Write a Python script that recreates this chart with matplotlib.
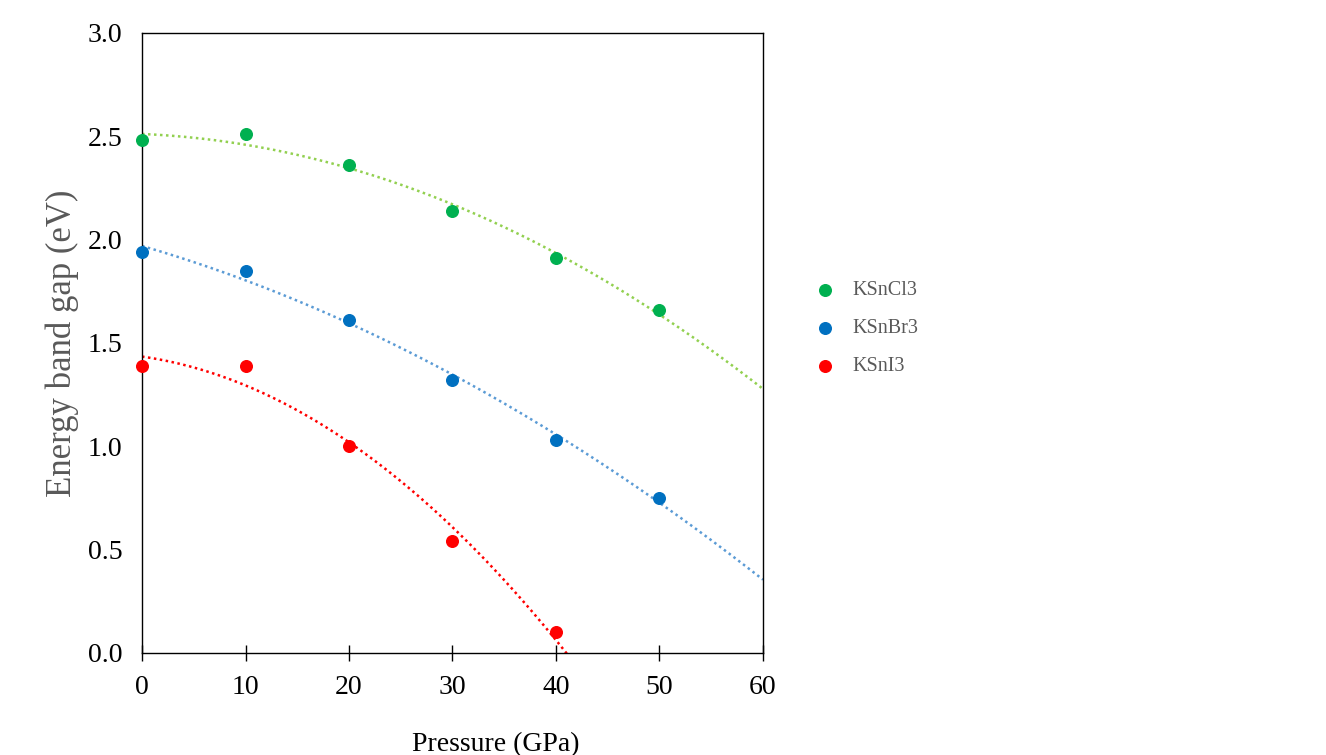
import numpy as np
import matplotlib
matplotlib.use("Agg")
import matplotlib.pyplot as plt

plt.rcParams['font.family'] = ['Liberation Serif', 'DejaVu Serif']

pressure = [0, 10, 20, 30, 40, 50]
ksncl3 = [2.48, 2.51, 2.36, 2.14, 1.91, 1.66]
ksnbr3 = [1.94, 1.85, 1.61, 1.32, 1.03, 0.75]
pressure_i = [0, 10, 20, 30, 40]
ksni3 = [1.39, 1.39, 1.00, 0.54, 0.10]

series = [
    ("KSnCl3", pressure, ksncl3, "#00B050", "#92D050"),
    ("KSnBr3", pressure, ksnbr3, "#0070C0", "#5B9BD5"),
    ("KSnI3", pressure_i, ksni3, "#FF0000", "#FF0000"),
]

fig = plt.figure(figsize=(13.26, 7.55), dpi=100)
ax = fig.add_axes([0.1071, 0.1351, 0.4683, 0.8212])

xs = np.linspace(0, 60, 300)
handles = []
for name, x, y, mc, lc in series:
    coef = np.polyfit(x, y, 2)
    ax.plot(xs, np.polyval(coef, xs), linestyle=(0, (1, 1.4)), color=lc, lw=1.8, zorder=2)
    h = ax.scatter(x, y, s=70, color=mc, zorder=3, clip_on=False, label=name)
    handles.append(h)

ax.set_xlim(0, 60)
ax.set_ylim(0, 3.0)
ax.set_xticks(range(0, 61, 10))
ax.set_yticks(np.arange(0, 3.01, 0.5))
ax.set_yticklabels([f"{v:.1f}" for v in np.arange(0, 3.01, 0.5)])
ax.tick_params(axis='x', direction='inout', length=12, width=1, labelsize=20, pad=10)
ax.tick_params(axis='y', length=0, labelsize=20, pad=14)
for s in ax.spines.values():
    s.set_linewidth(1.0)
    s.set_color('black')

xl = ax.set_xlabel("Pressure (GPa)", fontsize=20)
ax.xaxis.set_label_coords(0.57, -0.147)
xl.set_va('center')
yl = ax.set_ylabel("Energy band gap (eV)", fontsize=25, color="#595959")
ax.yaxis.set_label_coords(-0.129, 0.5)
yl.set_va('center')

leg = fig.legend(handles=handles, loc='center left', bbox_to_anchor=(0.601, 0.565),
                 frameon=False, fontsize=14.5, handletextpad=0.85, labelspacing=0.93,
                 handlelength=1.0)
for t in leg.get_texts():
    t.set_color("#595959")

fig.savefig("out.png", dpi=100)
